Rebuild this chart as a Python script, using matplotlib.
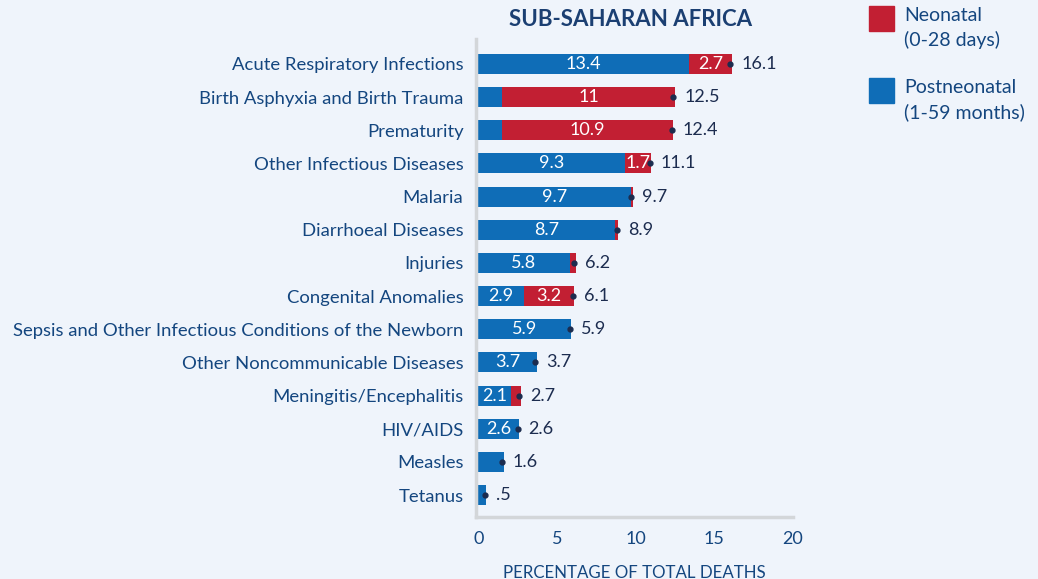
import matplotlib
matplotlib.use("Agg")
import matplotlib.pyplot as plt
import numpy as np
from matplotlib.patches import Rectangle

categories = ["Acute Respiratory Infections", "Birth Asphyxia and Birth Trauma", "Prematurity",
              "Other Infectious Diseases", "Malaria", "Diarrhoeal Diseases", "Injuries",
              "Congenital Anomalies", "Sepsis and Other Infectious Conditions of the Newborn",
              "Other Noncommunicable Diseases", "Meningitis/Encephalitis", "HIV/AIDS", "Measles", "Tetanus"]
postneonatal = [13.4, 1.5, 1.5, 9.3, 9.7, 8.7, 5.8, 2.9, 5.9, 3.7, 2.1, 2.6, 1.6, 0.5]
neonatal = [2.7, 11.0, 10.9, 1.7, 0.1, 0.2, 0.4, 3.2, 0.0, 0.0, 0.6, 0.0, 0.0, 0.0]
totals = [16.1, 12.5, 12.4, 11.1, 9.7, 8.9, 6.2, 6.1, 5.9, 3.7, 2.7, 2.6, 1.6, 0.5]
post_labels = ["13.4", "", "", "9.3", "9.7", "8.7", "5.8", "2.9", "5.9", "3.7", "2.1", "2.6", "", ""]
neo_labels = ["2.7", "11", "10.9", "1.7", "", "", "", "3.2", "", "", "", "", "", ""]
total_labels = ["16.1", "12.5", "12.4", "11.1", "9.7", "8.9", "6.2", "6.1", "5.9", "3.7", "2.7", "2.6", "1.6", ".5"]
xticks = [0, 5, 10, 15, 20]

plt.rcParams['font.family'] = ['Lato', 'DejaVu Sans']
BG = "#eff4fb"
BLUE = "#0f6db7"
RED = "#c21f33"
TXT = "#14467f"
NAVY = "#1c2c4f"

fig = plt.figure(figsize=(10.38, 5.79), dpi=100, facecolor=BG)
W, H = 1038, 579
ax = fig.add_axes([476 / W, 1 - 517 / H, 317 / W, 478 / H], facecolor=BG)

y = np.arange(len(categories))
post = np.array(postneonatal)
neo = np.array(neonatal)
ax.barh(y, post, height=0.6, color=BLUE, linewidth=0)
ax.barh(y, neo, left=post, height=0.6, color=RED, linewidth=0)

for i in range(len(categories)):
    if post_labels[i]:
        ax.text(post[i] / 2, y[i], post_labels[i], ha="center", va="center",
                color="white", fontsize=13)
    if neo_labels[i]:
        ax.text(post[i] + neo[i] / 2, y[i], neo_labels[i], ha="center", va="center",
                color="white", fontsize=13)
    end = post[i] + neo[i]
    ax.plot([end - 0.1], [y[i]], "o", color=NAVY, markersize=3.5)
    ax.text(end + 0.6, y[i], total_labels[i], ha="left", va="center",
            color=NAVY, fontsize=13)

ax.set_xlim(-0.15, 19.65)
ax.set_ylim(13.66, -0.75)
ax.set_yticks(y)
ax.set_yticklabels(categories, fontsize=13.3, color=TXT)
ax.set_xticks(xticks)
ax.set_xticklabels([str(t) for t in xticks], fontsize=13, color=TXT)
ax.tick_params(axis="both", length=0)
ax.tick_params(axis="y", pad=9)
ax.tick_params(axis="x", pad=10)
for s in ["top", "right"]:
    ax.spines[s].set_visible(False)
for s in ["left", "bottom"]:
    ax.spines[s].set_color("#d3d6d9")
    ax.spines[s].set_linewidth(2.5)
ax.set_xlabel("PERCENTAGE OF TOTAL DEATHS", fontsize=12.2, color=TXT, labelpad=13)

fig.text(631 / W, 1 - 19 / H, "SUB-SAHARAN AFRICA", ha="center", va="center",
         fontsize=16, fontweight="bold", color="#1b3f72")

# legend
fig.patches.append(Rectangle((869 / W, 1 - 31 / H), 25 / W, 25 / H, color=RED,
                             transform=fig.transFigure, figure=fig))
fig.patches.append(Rectangle((869 / W, 1 - 103 / H), 25 / W, 25 / H, color=BLUE,
                             transform=fig.transFigure, figure=fig))
fig.text(904 / W, 1 - 28 / H, "Neonatal\n(0-28 days)", ha="left", va="center",
         fontsize=14, color=TXT, linespacing=1.5)
fig.text(904 / W, 1 - 100 / H, "Postneonatal\n(1-59 months)", ha="left", va="center",
         fontsize=14, color=TXT, linespacing=1.5)

fig.savefig("out.png", dpi=100, facecolor=BG)
